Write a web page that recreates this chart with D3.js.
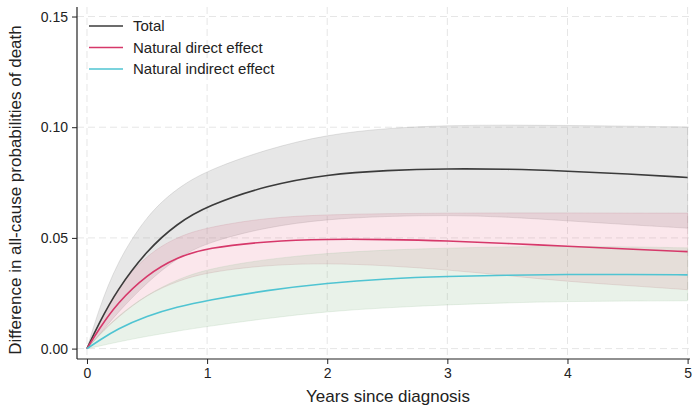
<!DOCTYPE html>
<html><head><meta charset="utf-8">
<script src="https://cdn.jsdelivr.net/npm/d3@7"></script>
<style>
html,body{margin:0;padding:0;background:#fff;}
svg{display:block;font-family:"Liberation Sans",Arial,Helvetica,sans-serif;}
</style></head>
<body>
<svg id="chart" width="693" height="405"></svg>
<script>
const years = [0, 0.1, 0.25, 0.5, 0.75, 1, 1.5, 2, 2.5, 3, 3.5, 4, 4.5, 5];
const total      = [0, 0.0115, 0.0265, 0.0445, 0.0565, 0.0645, 0.0738, 0.0787, 0.0806, 0.0813, 0.0811, 0.0802, 0.0789, 0.0773];
const totalUpper = [0, 0.018, 0.039, 0.0605, 0.0725, 0.0805, 0.0902, 0.0967, 0.0996, 0.1008, 0.1010, 0.1008, 0.1005, 0.1001];
const totalLower = [0, 0.006, 0.016, 0.030, 0.041, 0.048, 0.0550, 0.0585, 0.0598, 0.0603, 0.0595, 0.0577, 0.0560, 0.0544];
const nde        = [0, 0.0088, 0.0205, 0.0335, 0.0413, 0.0455, 0.0485, 0.0495, 0.0493, 0.0487, 0.0475, 0.0462, 0.0450, 0.0438];
const ndeUpper   = [0, 0.0115, 0.0275, 0.0425, 0.0505, 0.0548, 0.0592, 0.0605, 0.0610, 0.0612, 0.0613, 0.0613, 0.0612, 0.0612];
const ndeLower   = [0, 0.006, 0.014, 0.0245, 0.0305, 0.0345, 0.0378, 0.0386, 0.0375, 0.0356, 0.0330, 0.0303, 0.0285, 0.0266];
const nie        = [0, 0.0036, 0.0088, 0.0148, 0.0188, 0.0218, 0.0264, 0.0296, 0.0316, 0.0326, 0.0332, 0.0335, 0.0335, 0.0333];
const nieUpper   = [0, 0.0062, 0.0145, 0.0245, 0.0312, 0.0360, 0.0405, 0.0431, 0.0446, 0.0454, 0.0460, 0.0461, 0.0460, 0.0455];
const nieLower   = [0, 0.0011, 0.0029, 0.0056, 0.0079, 0.0100, 0.0137, 0.0168, 0.0185, 0.0198, 0.0207, 0.0213, 0.0215, 0.0216];
const xTicks = [0, 1, 2, 3, 4, 5];
const yTicks = [0, 0.05, 0.10, 0.15];
const seriesNames = ["Total", "Natural direct effect", "Natural indirect effect"];

const svg = d3.select("#chart");
const x = d3.scaleLinear().domain([-0.083, 5.02]).range([77, 690]);
const y = d3.scaleLinear().domain([-0.0047, 0.1543]).range([359, 7]);

// grid
const grid = svg.append("g");
grid.selectAll(".gx").data(xTicks).join("line")
  .attr("x1", d => x(d)).attr("x2", d => x(d)).attr("y1", 7).attr("y2", 359)
  .attr("stroke", "#e6e6e6").attr("stroke-width", 1).attr("stroke-dasharray", "7,4");
grid.selectAll(".gy").data(yTicks).join("line")
  .attr("x1", 77).attr("x2", 690).attr("y1", d => y(d)).attr("y2", d => y(d))
  .attr("stroke", "#e6e6e6").attr("stroke-width", 1).attr("stroke-dasharray", "7,4");

const curve = d3.curveBasis;
function band(lo, hi) {
  return d3.area().curve(curve).x((d, i) => x(years[i])).y0((d, i) => y(lo[i])).y1((d, i) => y(hi[i]))(years);
}
function line(v) {
  return d3.line().curve(curve).x((d, i) => x(years[i])).y((d, i) => y(v[i]))(years);
}

const bands = [
  {lo: totalLower, hi: totalUpper, fill: "#9c9c9c", op: 0.24, st: "#999"},
  {lo: ndeLower, hi: ndeUpper, fill: "#e2607f", op: 0.15, st: "#c98a98"},
  {lo: nieLower, hi: nieUpper, fill: "#8fbf8f", op: 0.2, st: "#a9c8a9"}
];
bands.forEach(b => {
  svg.append("path").attr("d", band(b.lo, b.hi))
    .attr("fill", b.fill).attr("fill-opacity", b.op)
    .attr("stroke", b.st).attr("stroke-opacity", 0.25).attr("stroke-width", 1);
});

const lines = [
  {v: total, c: "#3b3b3b"},
  {v: nde, c: "#d6386a"},
  {v: nie, c: "#4fc4d2"}
];
lines.forEach(l => {
  svg.append("path").attr("d", line(l.v)).attr("fill", "none")
    .attr("stroke", l.c).attr("stroke-width", 1.6);
});

// axes
const xAxis = svg.append("g").attr("transform", "translate(0,359)")
  .call(d3.axisBottom(x).tickValues(xTicks).tickFormat(d3.format("d")).tickSize(5).tickPadding(4));
const yAxis = svg.append("g").attr("transform", "translate(77,0)")
  .call(d3.axisLeft(y).tickValues(yTicks).tickFormat(d3.format(".2f")).tickSize(5).tickPadding(4));
[xAxis, yAxis].forEach(a => {
  a.select(".domain").attr("stroke", "#222").attr("stroke-width", 1.2);
  a.selectAll(".tick line").attr("stroke", "#222");
  a.selectAll(".tick text").attr("fill", "#222").attr("font-size", 14)
    .attr("font-family", "'Liberation Sans', Arial, sans-serif");
});
xAxis.select(".domain").attr("d", "M77,0H690");
yAxis.select(".domain").attr("d", "M0,7V359");

svg.append("text").attr("x", 388).attr("y", 402).attr("text-anchor", "middle")
  .attr("font-size", 17).attr("fill", "#222").text("Years since diagnosis");
svg.append("text").attr("transform", "translate(21,190) rotate(-90)").attr("text-anchor", "middle")
  .attr("font-size", 17).attr("fill", "#222").text("Difference in all-cause probabilities of death");

// legend
const lg = svg.append("g");
seriesNames.forEach((n, i) => {
  const yy = 26 + i * 21.5;
  lg.append("line").attr("x1", 89).attr("x2", 123).attr("y1", yy).attr("y2", yy)
    .attr("stroke", lines[i].c).attr("stroke-width", 1.6);
  lg.append("text").attr("x", 133).attr("y", yy + 5.3).attr("font-size", 15).attr("fill", "#222").text(n);
});
</script>
</body></html>
